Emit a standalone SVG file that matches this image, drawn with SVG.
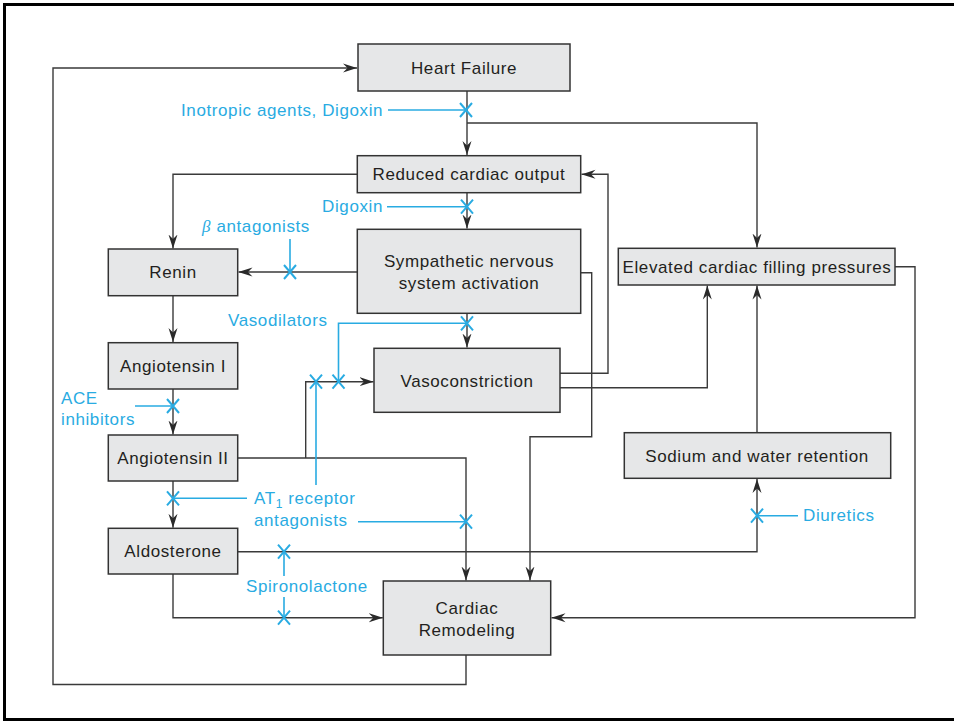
<svg xmlns="http://www.w3.org/2000/svg" width="954" height="722" viewBox="0 0 954 722">
<defs>
<style>
.box{fill:#e6e7e8;stroke:#333;stroke-width:1.5}
.bt{font-family:"Liberation Sans",Arial,sans-serif;font-size:17px;fill:#231f20;text-anchor:middle;letter-spacing:0.6px}
.lt{font-family:"Liberation Sans",Arial,sans-serif;font-size:17px;fill:#29abe2;letter-spacing:0.6px}
.ln{fill:none;stroke:#3a3a3a;stroke-width:1.4}
.arr{marker-end:url(#ah)}
.bl{fill:none;stroke:#29abe2;stroke-width:1.6}
.x{fill:none;stroke:#29abe2;stroke-width:2}
</style>
<marker id="ah" viewBox="0 0 14 10" refX="14" refY="5" markerWidth="14" markerHeight="10" orient="auto" markerUnits="userSpaceOnUse">
<path d="M0,0.5 L14,5 L0,9.5 L4.5,5 Z" fill="#2a2a2a"/>
</marker>
<path id="xm" d="M-6,-7 L6,7 M6,-7 L-6,7"/>
</defs>
<rect width="954" height="722" fill="#fff"/>
<path d="M956,4.5 H4.5 V719.5 H956" fill="none" stroke="#000" stroke-width="3"/>

<g id="connectors">
<path class="ln arr" d="M466,655 V684.5 H53 V68 H357"/>
<path class="ln arr" d="M467,91 V155"/>
<path class="ln arr" d="M467,123 H757 V247.5"/>
<path class="ln arr" d="M357,174.3 H173 V248.5"/>
<path class="ln arr" d="M467,193 V228.5"/>
<path class="ln arr" d="M357,272 H238.5"/>
<path class="ln arr" d="M467,313.5 V347.5"/>
<path class="ln arr" d="M581,272.7 H591.7 V436.7 H530 V580.5"/>
<path class="ln arr" d="M560,373.3 H608 V174.3 H581.5"/>
<path class="ln arr" d="M560,387.7 H707.3 V285.5"/>
<path class="ln arr" d="M757,432.7 V285.5"/>
<path class="ln arr" d="M895,266.7 H915 V617.7 H551.5"/>
<path class="ln arr" d="M173,296 V342"/>
<path class="ln arr" d="M173,389 V434.5"/>
<path class="ln arr" d="M238,458 H466 V580.5"/>
<path class="ln arr" d="M305.7,458 V381.7 H373.5"/>
<path class="ln arr" d="M173,481 V527.8"/>
<path class="ln arr" d="M238,551.7 H757 V479"/>
<path class="ln arr" d="M173,574 V617.7 H382.8"/>
</g>

<g id="inhibitors">
<path class="bl" d="M388,110 H466"/>
<use href="#xm" class="x" x="466" y="110"/>
<path class="bl" d="M387,206.7 H467"/>
<use href="#xm" class="x" x="467" y="206.7"/>
<path class="bl" d="M290,239 V272"/>
<use href="#xm" class="x" x="290" y="272"/>
<path class="bl" d="M467,323.3 H338.5 V381.7"/>
<use href="#xm" class="x" x="467" y="323.3"/>
<use href="#xm" class="x" x="338.5" y="381.7"/>
<path class="bl" d="M316,381.7 V485"/>
<use href="#xm" class="x" x="316" y="381.7"/>
<path class="bl" d="M135,406 H173"/>
<use href="#xm" class="x" x="173" y="406"/>
<path class="bl" d="M173,498.3 H247"/>
<use href="#xm" class="x" x="173" y="498.3"/>
<path class="bl" d="M358,521.7 H466"/>
<use href="#xm" class="x" x="466" y="521.7"/>
<path class="bl" d="M284,551.7 V576 M284,597 V617.7"/>
<use href="#xm" class="x" x="284" y="551.7"/>
<use href="#xm" class="x" x="284" y="617.7"/>
<path class="bl" d="M757,515.7 H798"/>
<use href="#xm" class="x" x="757" y="515.7"/>
<text class="lt" x="181" y="116">Inotropic agents, Digoxin</text>
<text class="lt" x="383" y="212" text-anchor="end">Digoxin</text>
<text class="lt" x="202" y="232"><tspan font-family="'Liberation Serif',serif" font-style="italic">β</tspan> antagonists</text>
<text class="lt" x="228" y="326">Vasodilators</text>
<text class="lt" x="61" y="404">ACE</text>
<text class="lt" x="61" y="425">inhibitors</text>
<text class="lt" x="254" y="504">AT<tspan font-size="12" dy="4">1</tspan><tspan dy="-4"> receptor</tspan></text>
<text class="lt" x="254" y="526">antagonists</text>
<text class="lt" x="246" y="592">Spironolactone</text>
<text class="lt" x="803" y="521">Diuretics</text>
</g>

<g id="heart-failure"><rect class="box" x="358" y="44" width="212" height="47"/><text class="bt" x="464" y="74">Heart Failure</text></g>
<g id="reduced-cardiac-output"><rect class="box" x="357.3" y="155.7" width="223.4" height="37"/><text class="bt" x="469" y="180">Reduced cardiac output</text></g>
<g id="sns-activation"><rect class="box" x="357.3" y="229.3" width="223.4" height="84"/><text class="bt" x="469" y="267">Sympathetic nervous</text><text class="bt" x="469" y="289">system activation</text></g>
<g id="renin"><rect class="box" x="108.3" y="249" width="129.4" height="46.7"/><text class="bt" x="173" y="278">Renin</text></g>
<g id="angiotensin-1"><rect class="box" x="108.3" y="342.7" width="129.4" height="46.3"/><text class="bt" x="173" y="372">Angiotensin I</text></g>
<g id="angiotensin-2"><rect class="box" x="108.3" y="435" width="129.4" height="46"/><text class="bt" x="173" y="464">Angiotensin II</text></g>
<g id="aldosterone"><rect class="box" x="108.3" y="528.3" width="129.4" height="45.7"/><text class="bt" x="173" y="557">Aldosterone</text></g>
<g id="vasoconstriction"><rect class="box" x="374" y="348.3" width="186" height="64"/><text class="bt" x="467" y="387">Vasoconstriction</text></g>
<g id="elevated-filling-pressures"><rect class="box" x="618.3" y="248.3" width="276.7" height="36.7"/><text class="bt" x="757" y="272.5" letter-spacing="0.3">Elevated cardiac filling pressures</text></g>
<g id="sodium-water-retention"><rect class="box" x="624.3" y="432.7" width="266.4" height="45.6"/><text class="bt" x="757" y="462">Sodium and water retention</text></g>
<g id="cardiac-remodeling"><rect class="box" x="383.3" y="581" width="167.4" height="74"/><text class="bt" x="467" y="614">Cardiac</text><text class="bt" x="467" y="636">Remodeling</text></g>
</svg>
